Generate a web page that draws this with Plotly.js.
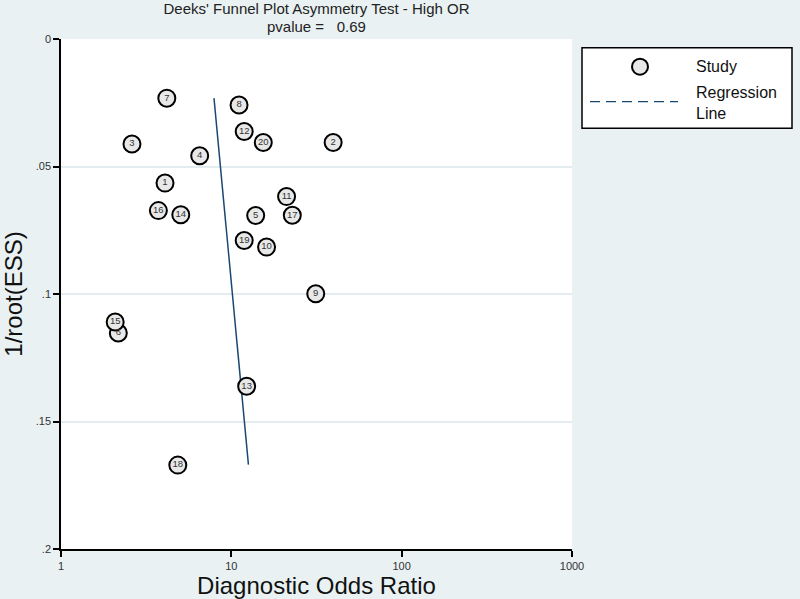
<!DOCTYPE html>
<html>
<head>
<meta charset="utf-8">
<script src="https://cdn.plot.ly/plotly-3.0.1.min.js"></script>
<style>
  body { margin: 0; background: #E9F1F3; }
  #myPlot { width: 800px; height: 599px; }
</style>
</head>
<body>
<div id="myPlot"></div>
<script>
// study labels, diagnostic odds ratio and 1/root(ESS)
const studyIds = ["1","2","3","4","5","6","7","8","9","10","11","12","13","14","15","16","17","18","19","20"];
const dor = [4.08, 39.6, 2.61, 6.52, 13.9, 2.17, 4.18, 11.1, 31.3, 16.1, 21.1, 11.9, 12.3, 5.05, 2.08, 3.73, 22.8, 4.85, 11.9, 15.4];
const invRootEss = [0.0565, 0.0406, 0.0412, 0.0458, 0.0692, 0.1153, 0.0232, 0.0259, 0.0999, 0.0816, 0.0618, 0.0363, 0.1362, 0.0689, 0.1110, 0.0673, 0.0691, 0.1671, 0.0790, 0.0406];

// regression line end points
const regX = [7.91, 12.6];
const regY = [0.0232, 0.1669];

const yTicks = [0, 0.05, 0.1, 0.15, 0.2];
const yTickText = ["0", ".05", ".1", ".15", ".2"];
const xTicks = [1, 10, 100, 1000];
const xTickText = ["1", "10", "100", "1000"];

const navy = "#1A476F";
const bg = "#E9F1F3";

// legend box sits outside the plot, in paper coords
function px(x) { return (x - 61) / 511; }
function py(y) { return (549.3 - y) / 510; }

const data = [
  {
    x: regX,
    y: regY,
    mode: "lines",
    line: {color: navy, width: 1.5},
    name: "Regression Line",
    showlegend: false,
    hoverinfo: "skip"
  },
  {
    x: dor,
    y: invRootEss,
    mode: "markers",
    marker: {size: 17, color: "#E8E8E8", line: {color: "#000", width: 2}},
    name: "Study",
    showlegend: false
  },
  {
    x: dor,
    y: invRootEss,
    mode: "text",
    text: studyIds,
    textposition: "middle center",
    textfont: {family: "Liberation Sans, Arial, sans-serif", size: 9.5, color: "#333"},
    showlegend: false,
    hoverinfo: "skip"
  }
];

const layout = {
  width: 800,
  height: 599,
  paper_bgcolor: bg,
  plot_bgcolor: "#FFFFFF",
  margin: {l: 61, r: 228, t: 39, b: 50},
  font: {family: "Liberation Sans, Arial, sans-serif", color: "#222"},
  showlegend: false,
  title: {
    text: "Deeks' Funnel Plot Asymmetry Test - High OR",
    font: {size: 15, color: "#222"},
    x: 0.5 * (61 + 572) / 800,
    xanchor: "center",
    yref: "container",
    y: 1 - 9 / 599,
    yanchor: "middle"
  },
  xaxis: {
    type: "log",
    range: [0, 3],
    tickvals: xTicks,
    ticktext: xTickText,
    ticks: "outside",
    ticklen: 6,
    tickwidth: 1.5,
    tickcolor: "#000",
    showline: true,
    linecolor: "#000",
    linewidth: 1.5,
    showgrid: false,
    zeroline: false,
    tickfont: {size: 11, color: "#333"},
    title: {text: "Diagnostic Odds Ratio", font: {size: 24, color: "#111"}, standoff: 2}
  },
  yaxis: {
    range: [0.2, 0],
    tickvals: yTicks,
    ticktext: yTickText,
    ticks: "outside",
    ticklen: 6,
    tickwidth: 1.5,
    tickcolor: "#000",
    showline: true,
    linecolor: "#000",
    linewidth: 1.5,
    showgrid: true,
    gridcolor: "#E3ECEF",
    gridwidth: 1.5,
    zeroline: false,
    tickfont: {size: 11, color: "#333"},
    title: {text: "1/root(ESS)", font: {size: 24, color: "#111"}, standoff: 6}
  },
  shapes: [
    {type: "rect", xref: "paper", yref: "paper", x0: px(582), x1: px(792), y0: py(128.5), y1: py(48),
     fillcolor: "#FFFFFF", line: {color: "#000", width: 1.5}},
    {type: "circle", xref: "paper", yref: "paper",
     x0: px(640 - 8), x1: px(640 + 8), y0: py(67 + 8), y1: py(67 - 8),
     fillcolor: "#E8E8E8", line: {color: "#000", width: 2}},
    {type: "line", xref: "paper", yref: "paper", x0: px(590), x1: px(678), y0: py(102), y1: py(102),
     line: {color: navy, width: 1.2, dash: "10px,6px"}}
  ],
  annotations: [
    {xref: "paper", yref: "paper", x: 0.5, y: py(26.5), text: "pvalue =   0.69", showarrow: false,
     xanchor: "center", yanchor: "middle", font: {size: 15, color: "#222"}},
    {xref: "paper", yref: "paper", x: px(694), y: py(67), text: "Study", showarrow: false,
     xanchor: "left", yanchor: "middle", font: {size: 16, color: "#111"}},
    {xref: "paper", yref: "paper", x: px(694), y: py(103), text: "Regression<br>Line", showarrow: false,
     xanchor: "left", yanchor: "middle", align: "left", font: {size: 16, color: "#111"}}
  ]
};

Plotly.newPlot("myPlot", data, layout, {displayModeBar: false});
</script>
</body>
</html>
